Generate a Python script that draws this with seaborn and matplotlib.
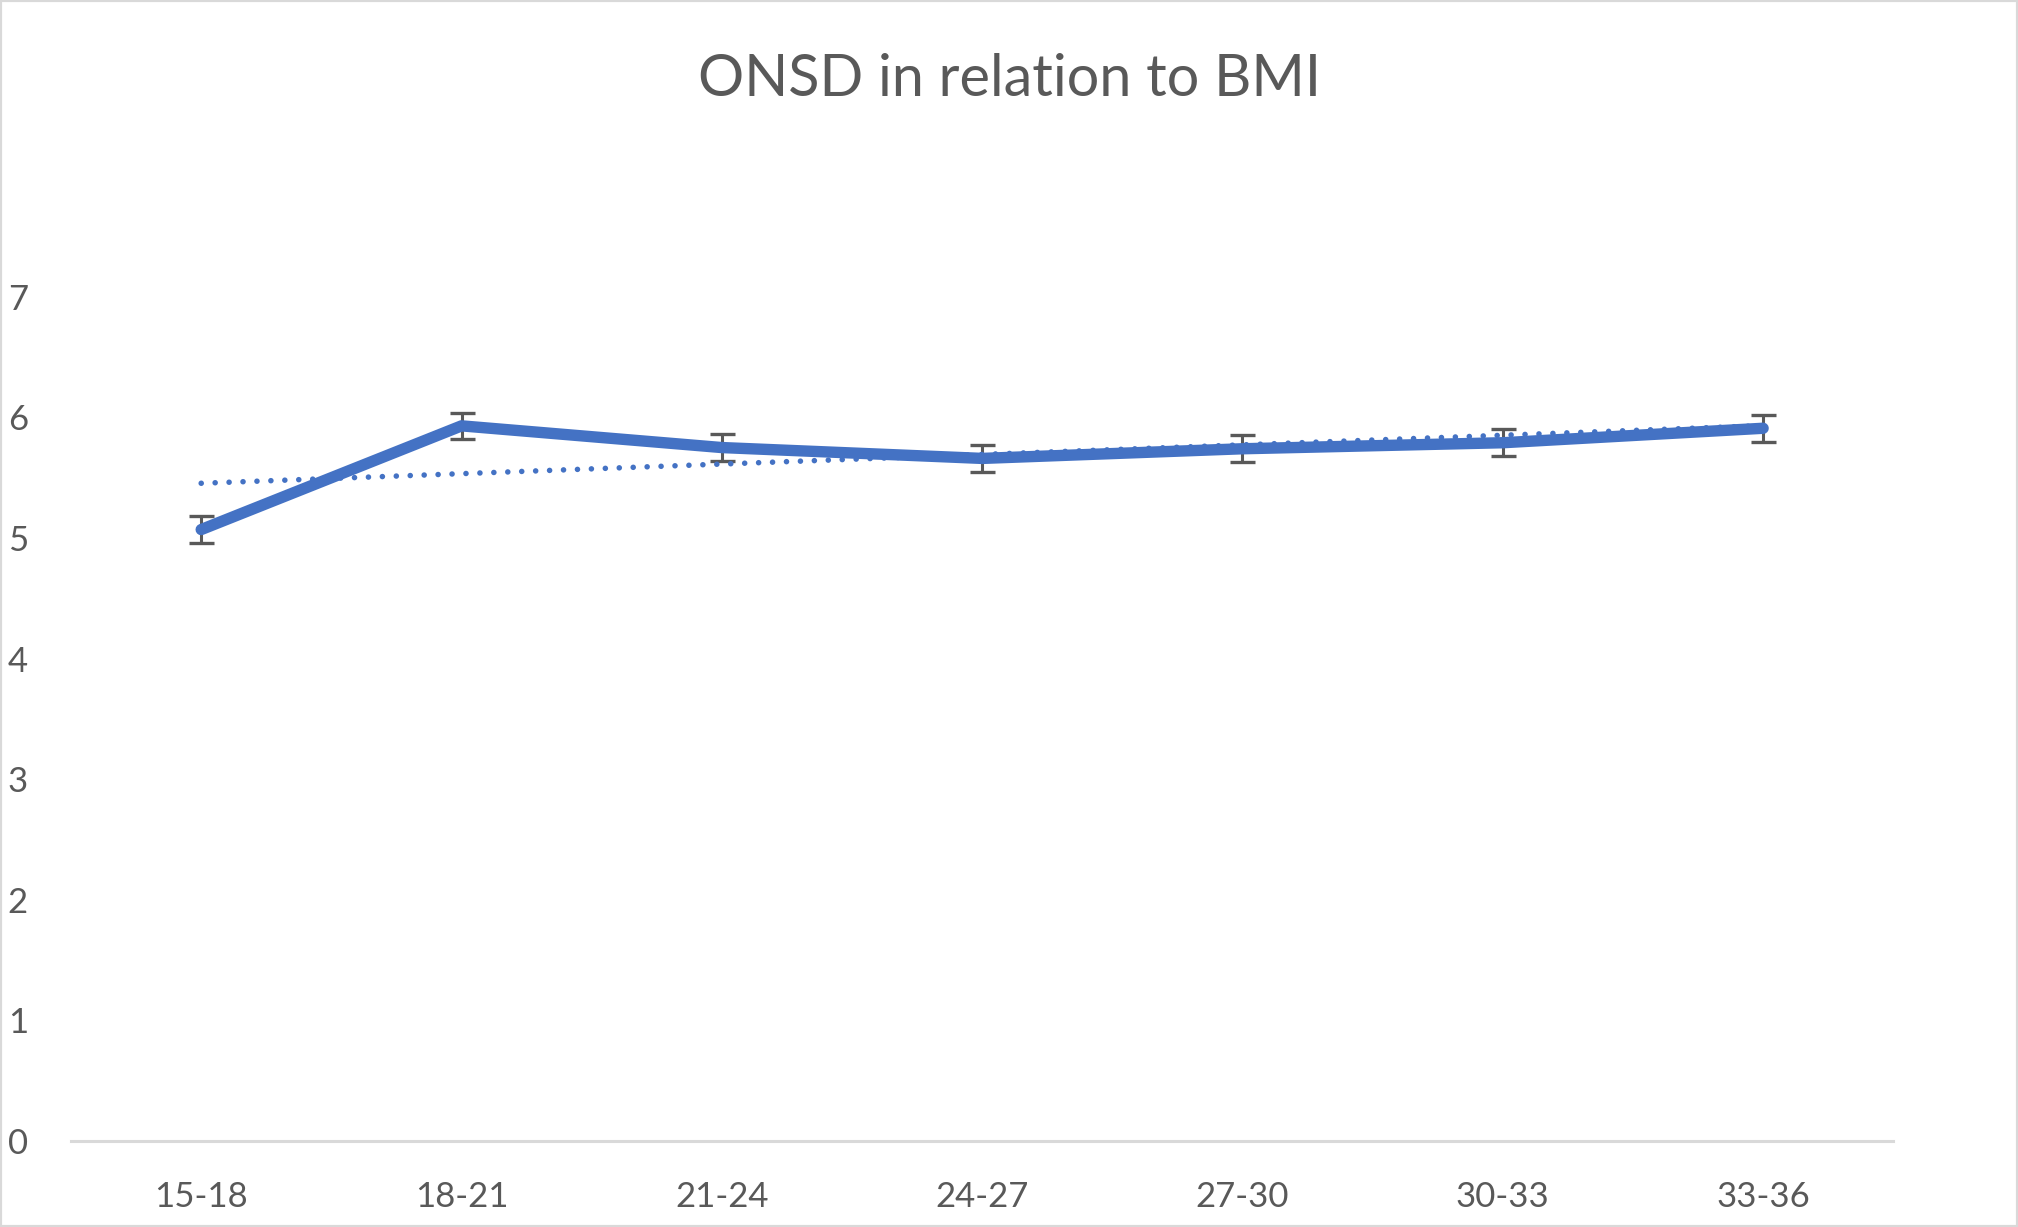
import numpy as np
import pandas as pd
import matplotlib
matplotlib.use("Agg")
import matplotlib.pyplot as plt
import seaborn as sns
from matplotlib.patches import Rectangle

categories = ["15-18", "18-21", "21-24", "24-27", "27-30", "30-33", "33-36"]
onsd = [5.07, 5.93, 5.75, 5.66, 5.74, 5.79, 5.91]
err = [0.11, 0.11, 0.11, 0.11, 0.11, 0.11, 0.11]
yticks = [0, 1, 2, 3, 4, 5, 6, 7]
title = "ONSD in relation to BMI"

sns.set_theme(style="white")
plt.rcParams["font.family"] = ["Lato", "DejaVu Sans"]

df = pd.DataFrame({"pos": np.arange(len(categories)), "cat": categories, "onsd": onsd, "err": err})

fig = plt.figure(figsize=(20.18, 12.27), dpi=100)
ax = fig.add_axes([0.0352, 0.0701, 0.903, 0.688])

BLUE = "#4472C4"
GREY = "#595959"

ax.errorbar(df["pos"], df["onsd"], yerr=df["err"], fmt="none", ecolor=GREY,
            elinewidth=2.2, capsize=9, capthick=2.4, zorder=2)
sns.lineplot(data=df, x="pos", y="onsd", ax=ax, color=BLUE, linewidth=8.2,
             solid_capstyle="round", solid_joinstyle="round", zorder=3)

coef = np.polyfit(df["pos"], df["onsd"], 1)
trend = np.polyval(coef, df["pos"])
ax.plot(df["pos"], trend, color=BLUE, linewidth=4.0, linestyle=(0, (0.01, 2.5)),
        dash_capstyle="round", zorder=4)

ax.set_xlim(-0.5, len(categories) - 0.5)
ax.set_ylim(0, 7)
ax.set_xticks(df["pos"])
ax.set_xticklabels(categories)
ax.set_yticks(yticks)
ax.set_xlabel("")
ax.set_ylabel("")
for s in ["top", "right", "left"]:
    ax.spines[s].set_visible(False)
ax.spines["bottom"].set_color("#D9D9D9")
ax.spines["bottom"].set_linewidth(2.2)
ax.tick_params(axis="both", length=0, labelsize=25, labelcolor=GREY)
ax.tick_params(axis="x", pad=29)
ax.tick_params(axis="y", pad=31)
ax.grid(False)

fig.text(0.5, 0.935, title, ha="center", va="center", fontsize=41.5, color=GREY)
fig.patches.append(Rectangle((0, 0), 1, 1, transform=fig.transFigure, fill=False,
                             edgecolor="#D9D9D9", linewidth=3, zorder=10))

fig.savefig("out.png", dpi=100)
